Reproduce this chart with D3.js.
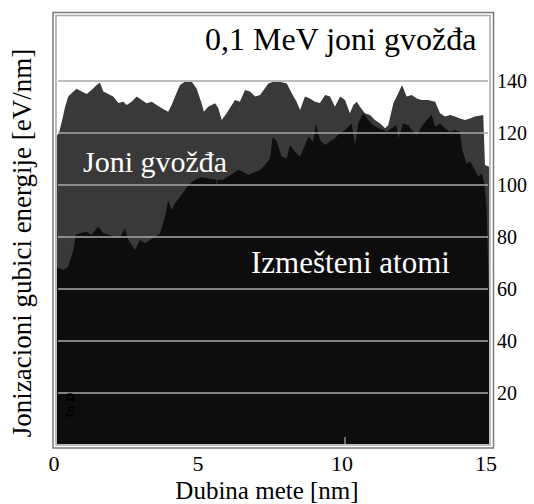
<!DOCTYPE html>
<html>
<head>
<meta charset="utf-8">
<script src="https://cdn.jsdelivr.net/npm/d3@7"></script>
<style>
  html, body { margin: 0; padding: 0; background: #fff; }
  svg { display: block; }
  text { font-family: "Liberation Serif", "Times New Roman", serif; }
</style>
</head>
<body>
<svg id="chart" width="534" height="504"></svg>
<script>
// Ionization energy loss of 0.1 MeV iron ions vs target depth
const ionDepth = [0, 0.07, 0.18, 0.28, 0.39, 0.57, 0.68, 0.86, 1.03, 1.20, 1.38, 1.49, 1.61, 1.78, 1.95, 2.13, 2.30, 2.42, 2.59, 2.77, 2.94, 3.11, 3.29, 3.46, 3.64, 3.86, 3.98, 4.10, 4.27, 4.44, 4.68, 4.85, 5.02, 5.10, 5.25, 5.49, 5.60, 5.72, 5.89, 6.07, 6.18, 6.35, 6.53, 6.70, 6.88, 7.05, 7.22, 7.34, 7.51, 7.74, 7.98, 8.15, 8.32, 8.44, 8.61, 8.78, 8.96, 9.13, 9.31, 9.48, 9.65, 9.83, 10.0, 10.17, 10.29, 10.41, 10.52, 10.69, 10.87, 11.04, 11.22, 11.39, 11.50, 11.68, 11.85, 11.98, 12.14, 12.32, 12.49, 12.66, 12.89, 13.13, 13.30, 13.47, 13.65, 13.82, 13.99, 14.17, 14.34, 14.51, 14.80, 14.86, 15.0];
const ionLoss = [119, 120, 125, 130, 134, 136, 137, 136, 135, 136.5, 138.5, 139.3, 136, 135, 134, 131.5, 132, 130.8, 132, 134, 132.7, 131.4, 132, 130.8, 129.5, 128.2, 130.8, 134, 138.5, 139.7, 139.7, 137, 131.4, 128.2, 130.1, 131.4, 129.6, 125, 127.6, 130.8, 132.7, 132, 136.5, 136, 134, 134.6, 137.2, 139, 139.7, 139.7, 139, 135.3, 132, 128.8, 134, 133.3, 132, 131.5, 134.6, 134, 130.1, 134, 132.7, 127.6, 130.8, 132, 130.1, 127.6, 126.9, 125, 123.7, 121.8, 123, 131.4, 135.3, 138.5, 134, 134.6, 133.3, 132.7, 132.7, 132, 127.6, 126.3, 126.9, 126.3, 125.6, 125, 125.6, 126.3, 126.9, 107.7, 107];

// Ionization losses of displaced (recoil) atoms
const recoilDepth = [0, 0.10, 0.22, 0.39, 0.57, 0.65, 0.80, 1.03, 1.20, 1.43, 1.61, 1.84, 2.01, 2.19, 2.36, 2.48, 2.71, 2.88, 3.06, 3.23, 3.40, 3.58, 3.75, 3.86, 3.98, 4.10, 4.27, 4.44, 4.56, 4.79, 5.02, 5.20, 5.53, 5.55, 5.57, 5.77, 6.12, 6.29, 6.47, 6.64, 6.88, 7.05, 7.22, 7.40, 7.49, 7.63, 7.80, 7.98, 8.09, 8.26, 8.44, 8.61, 8.73, 8.90, 8.99, 9.13, 9.31, 9.48, 9.65, 9.83, 10.0, 10.23, 10.35, 10.46, 10.63, 10.81, 10.98, 11.16, 11.33, 11.45, 11.62, 11.79, 11.85, 12.02, 12.20, 12.31, 12.49, 12.66, 12.84, 13.01, 13.13, 13.30, 13.47, 13.65, 13.82, 13.99, 14.07, 14.22, 14.34, 14.51, 14.63, 14.75, 14.84, 14.92, 15.0];
const recoilLoss = [68, 68, 67.3, 68.6, 75, 80.8, 81.4, 82, 80.8, 84, 81.4, 80.8, 79.5, 80, 83.3, 78.8, 75, 78.8, 77.6, 78.8, 80, 81.4, 87.8, 94.2, 90.4, 93, 95.5, 98, 100, 102, 103, 102.6, 102, 98.8, 102, 102, 104.5, 105.8, 105, 103.8, 105, 105.8, 107.7, 110.3, 118.6, 116.7, 110.9, 110.3, 115.4, 112.8, 110.9, 115.4, 118.6, 116.7, 123.7, 117.3, 115.4, 116.7, 118, 119.9, 121.2, 123.7, 115.4, 123.7, 127.6, 125, 123, 121.8, 121.2, 120.5, 121.8, 123, 118, 123.7, 123, 121.2, 119.2, 122.4, 125, 126.9, 122.4, 123.7, 121.8, 120.5, 121.2, 120.5, 113.5, 108.3, 109, 105.8, 103.2, 104.5, 100.6, 90.4, 55.8];

const yTicks = [20, 40, 60, 80, 100, 120, 140];
const xTicks = [0, 5, 10, 15];
const xTickMarks = [10];

const svg = d3.select("#chart");

const x = d3.scaleLinear().domain([0, 15]).range([57, 489]);
const y = d3.scaleLinear().domain([0, 140]).range([445, 81]);

// frame: double border around the plot
svg.append("rect").attr("x", 53).attr("y", 12.5).attr("width", 440.5).attr("height", 435.5)
  .attr("fill", "none").attr("stroke", "#7a7a7a").attr("stroke-width", 1.5);
svg.append("rect").attr("x", 56).attr("y", 15.5).attr("width", 434).attr("height", 429.5)
  .attr("fill", "none").attr("stroke", "#a8a8a8").attr("stroke-width", 1.5);

svg.append("clipPath").attr("id", "plotClip")
  .append("rect").attr("x", 57).attr("y", 17).attr("width", 432).attr("height", 427);

const plot = svg.append("g").attr("clip-path", "url(#plotClip)");

const ionData = ionDepth.map((d, i) => [d, ionLoss[i]]);
const recoilData = recoilDepth.map((d, i) => [d, recoilLoss[i]]);

const area = d3.area()
  .x(d => x(d[0]))
  .y0(y(0) + 2)
  .y1(d => y(d[1]));

plot.append("path").datum(ionData).attr("d", area).attr("fill", "#393939");
plot.append("path").datum(recoilData).attr("d", area).attr("fill", "#0d0d0d");

// horizontal grid lines
plot.selectAll("line.grid").data(yTicks).join("line")
  .attr("class", "grid")
  .attr("x1", 58).attr("x2", 488)
  .attr("y1", d => y(d)).attr("y2", d => y(d))
  .attr("stroke", "#a9a9a9").attr("stroke-width", 1.5);

// bottom tick marks
plot.selectAll("line.xt").data(xTickMarks).join("line")
  .attr("class", "xt")
  .attr("x1", d => x(d)).attr("x2", d => x(d))
  .attr("y1", 437).attr("y2", 444)
  .attr("stroke", "#a9a9a9").attr("stroke-width", 1.2);

// faint marker inside the plot
svg.append("text")
  .attr("transform", "translate(74,405) rotate(-90)")
  .attr("text-anchor", "middle")
  .style("font-family", "'DejaVu Sans', sans-serif")
  .style("font-weight", "bold")
  .style("font-size", "11px")
  .attr("fill", "#000")
  .text("In D");

// right axis labels
svg.selectAll("text.ytick").data(yTicks).join("text")
  .attr("class", "ytick")
  .attr("x", 497)
  .attr("y", d => y(d))
  .attr("dy", "0.35em")
  .style("font-size", "20px")
  .attr("fill", "#000")
  .text(d => d);

// bottom axis labels
svg.selectAll("text.xtick").data(xTicks).join("text")
  .attr("class", "xtick")
  .attr("x", d => x(d) - 3)
  .attr("y", 471)
  .attr("text-anchor", "middle")
  .style("font-size", "22px")
  .attr("fill", "#000")
  .text(d => d);

// axis titles
svg.append("text")
  .attr("x", 267).attr("y", 499)
  .attr("text-anchor", "middle")
  .style("font-size", "25px")
  .text("Dubina mete [nm]");

svg.append("text")
  .attr("transform", "translate(31,243) rotate(-90)")
  .attr("text-anchor", "middle")
  .style("font-size", "27px")
  .text("Jonizacioni gubici energije [eV/nm]");

// chart title and series labels
svg.append("text")
  .attr("x", 205).attr("y", 50)
  .style("font-size", "32px")
  .text("0,1 MeV joni gvožđa");

svg.append("text")
  .attr("x", 83).attr("y", 172)
  .style("font-size", "30px")
  .attr("fill", "#fff")
  .text("Joni gvožđa");

svg.append("text")
  .attr("x", 251).attr("y", 273)
  .style("font-size", "31px")
  .attr("fill", "#fff")
  .text("Izmešteni atomi");
</script>
</body>
</html>
